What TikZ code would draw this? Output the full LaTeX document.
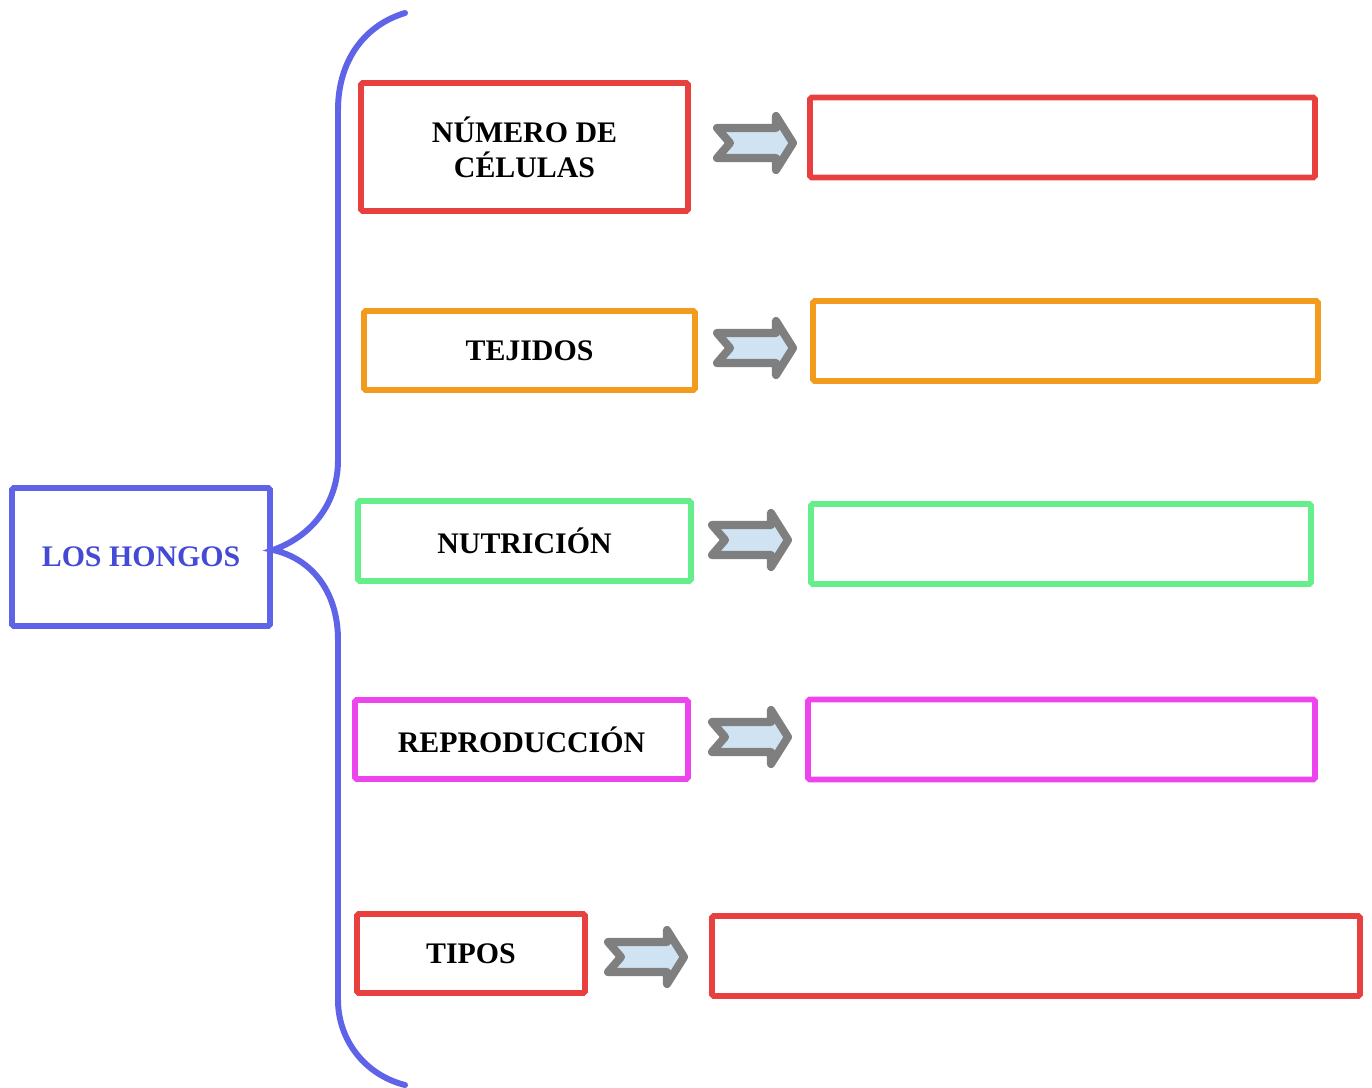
\documentclass[tikz,border=0pt]{standalone}
\usepackage{fontspec}
\setmainfont{Liberation Serif}
\usetikzlibrary{positioning}

\definecolor{hblue}{HTML}{5E63E8}
\definecolor{htext}{HTML}{4449D6}
\definecolor{hred}{HTML}{E8403F}
\definecolor{horange}{HTML}{F29B1C}
\definecolor{hgreen}{HTML}{66EE8C}
\definecolor{hmagenta}{HTML}{EE44EE}
\definecolor{hgrey}{HTML}{7F7F7F}
\definecolor{hfill}{HTML}{D0E3F3}

\tikzset{
	box/.style={draw,rectangle,line width=3.3pt,rounded corners=1pt,align=center,
		font=\bfseries\fontsize{17}{20}\selectfont,inner sep=0pt},
	fatarrow/.pic={
		\draw[hgrey,fill=hfill,line width=4.6pt,line join=round]
			(4,-15) -- (17,0) -- (4,15) -- (63,15) -- (63,27) -- (80,0)
			-- (63,-27) -- (63,-15) -- cycle;
	}
}

\begin{document}
\begin{tikzpicture}[x=0.02cm, y=-0.02cm]
	\useasboundingbox (0,0) rectangle (1372,1088);
	
	% Main topic
	\node (hongos) at (141,557) [box,draw=hblue,text=htext,minimum width=258*0.02cm,minimum height=138*0.02cm] {LOS HONGOS};
	
	% Brace
	\draw [hblue,line width=3.4pt,line cap=round]
		(405,13) .. controls (365,25) and (338,60) .. (338,110) -- (338,460)
		.. controls (338,505) and (310,537) .. ([yshift=0.14cm]hongos.east)
		.. controls (310,558) and (338,590) .. (338,640) -- (338,1000)
		.. controls (338,1040) and (365,1075) .. (405,1085);
	
	% Topics
	\node (num) at (524.5,147) [box,draw=hred,minimum width=327*0.02cm,minimum height=128*0.02cm] {NÚMERO DE\\CÉLULAS};
	\node (tej) at (529.5,350.5) [box,draw=horange,minimum width=331*0.02cm,minimum height=79*0.02cm] {TEJIDOS};
	\node (nut) at (524.5,541) [box,draw=hgreen,minimum width=333*0.02cm,minimum height=80*0.02cm] {NUTRICIÓN};
	\node (rep) at (521.5,739.5) [box,draw=hmagenta,minimum width=333*0.02cm,minimum height=79*0.02cm] {REPRODUCCIÓN};
	\node (tip) at (471,953.5) [box,draw=hred,minimum width=228*0.02cm,minimum height=79*0.02cm] {TIPOS};
	
	% Empty answer boxes
	\foreach \n/\x/\y/\w/\c in {1/1062.5/137.5/505/hred, 2/1065.5/341/505/horange,
		3/1061/544/500/hgreen, 4/1061.5/739.5/507/hmagenta, 5/1036/956/648/hred}{
		\node (answer \n) at (\x,\y) [box,draw=\c,minimum width=\w*0.02cm,minimum height=80*0.02cm] {};
	}
	
	% Arrows
	\foreach \x/\y in {713/143, 713/348, 708/540, 708/737, 604/957}{
		\pic at (\x,\y) {fatarrow};
	}
	
\end{tikzpicture}
\end{document}
